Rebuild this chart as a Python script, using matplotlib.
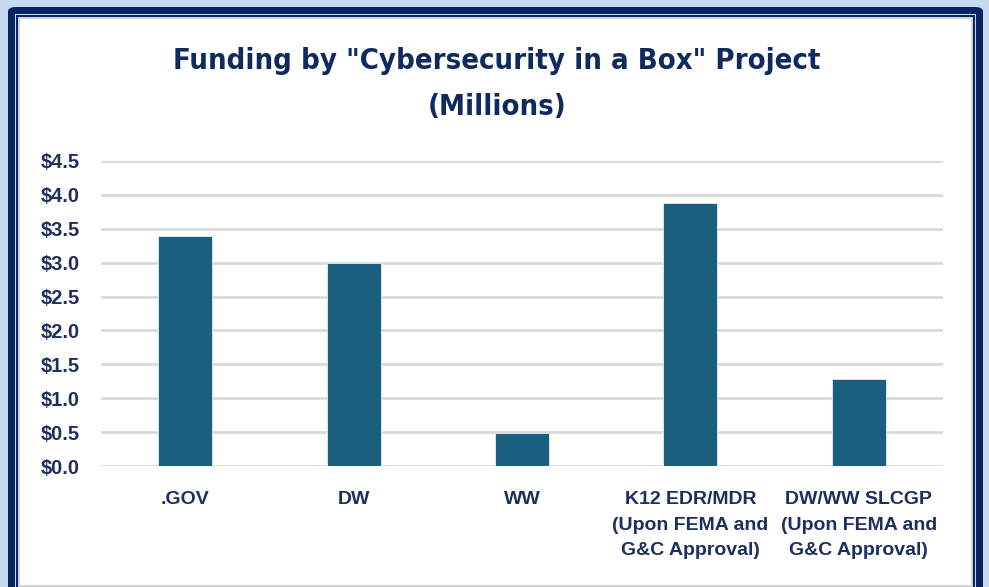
import matplotlib
matplotlib.use("Agg")
import matplotlib.pyplot as plt
from matplotlib.patches import Rectangle, FancyBboxPatch

categories = [".GOV", "DW", "WW",
              "K12 EDR/MDR\n(Upon FEMA and\nG&C Approval)",
              "DW/WW SLCGP\n(Upon FEMA and\nG&C Approval)"]
values = [3.4, 3.0, 0.48, 3.88, 1.28]
yticks = [0.0, 0.5, 1.0, 1.5, 2.0, 2.5, 3.0, 3.5, 4.0, 4.5]
title = 'Funding by "Cybersecurity in a Box" Project\n(Millions)'

W, H = 989, 587
fig = plt.figure(figsize=(W / 100, H / 100), dpi=100)
fig.patch.set_facecolor("#c6d9f0")

navy = "#0b2360"
def px(x0, y0, x1, y1, color, z=0):
    fig.patches.append(Rectangle((x0 / W, 1 - y1 / H), (x1 - x0) / W, (y1 - y0) / H,
                                 transform=fig.transFigure, facecolor=color,
                                 edgecolor="none", zorder=z))

# frame layers
fig.patches.append(FancyBboxPatch((8 / W, -0.05), (983 - 8) / W, 1 - 7 / H + 0.05,
                                  boxstyle="round,pad=0,rounding_size=0.008",
                                  transform=fig.transFigure, facecolor=navy,
                                  edgecolor="none", zorder=0))
px(15, 14, 976, 600, "#c6d9f0", 1)
px(16, 15, 975, 600, navy, 2)
px(18, 17, 973, 600, "#d4d4d4", 3)
px(20, 19, 971, 585, "white", 4)

ax = fig.add_axes([101 / W, 1 - 466 / H, (943 - 101) / W, (466 - 161) / H])
ax.set_zorder(5)
ax.patch.set_alpha(0)

text_color = "#1c2f5e"
x = range(len(categories))
ax.bar(x, values, width=0.32, color="#1a5e80", edgecolor="#e8eef2",
       linewidth=0.6, zorder=3)
ax.set_xlim(-0.5, len(categories) - 0.5)
ax.set_ylim(0, 4.5)
ax.set_yticks(yticks)
ax.set_yticklabels([f"${v:.1f}" for v in yticks])
ax.yaxis.grid(True, color="#d9d9d9", linewidth=2.0, zorder=0)
ax.set_axisbelow(True)
for s in ax.spines.values():
    s.set_visible(False)
ax.tick_params(axis="y", length=0, pad=15, labelsize=14.5, labelcolor=text_color)
ax.tick_params(axis="x", length=0, pad=18, labelsize=14, labelcolor=text_color)
ax.set_xticks(list(x))
ax.set_xticklabels(categories, linespacing=1.66)
for lbl in ax.get_xticklabels() + ax.get_yticklabels():
    lbl.set_fontweight("bold")
    lbl.set_family("Liberation Sans")

fig.text(497 / W, 1 - 84 / H, title, ha="center", va="center",
         fontsize=21, fontweight="bold", color="#0e2a5e",
         family="DejaVu Sans", fontstretch="condensed", linespacing=1.8,
         zorder=6)

fig.savefig("out.png", dpi=100, facecolor=fig.get_facecolor())
